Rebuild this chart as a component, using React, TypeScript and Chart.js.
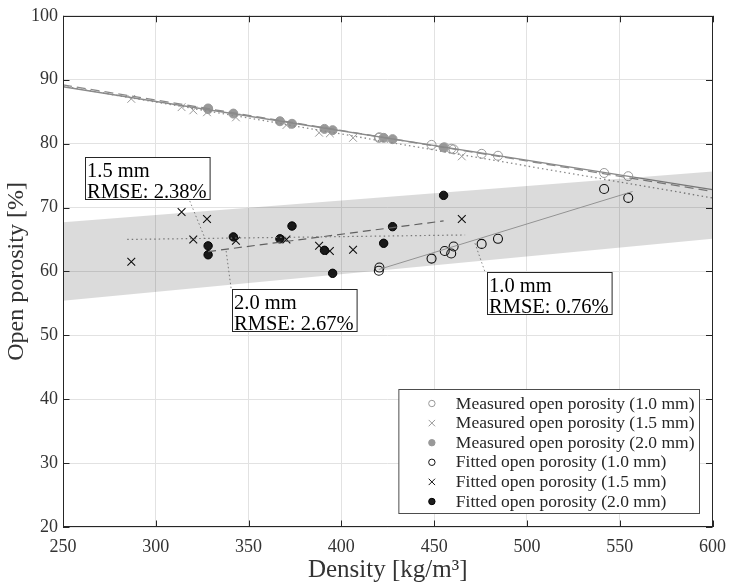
import React, { useEffect, useRef } from "react";
import { Chart, registerables } from "chart.js";
import { drawPoint } from "chart.js/helpers";

Chart.register(...registerables);

const FONT = "'Liberation Serif', 'Times New Roman', serif";
const AXIS_COLOR = "#262626";
const TEXT_COLOR = "#333333";

// Axis ranges / ticks
const X_MIN = 250;
const X_MAX = 600;
const X_STEP = 50;
const Y_MIN = 20;
const Y_MAX = 100;
const Y_STEP = 10;

// 1.0 mm
const density10 = [420.5, 420.2, 448.6, 455.7, 459.2, 460.5, 475.6, 484.4, 541.6, 554.6];
const measured10 = [81.0, 80.9, 79.8, 79.4, 79.2, 79.1, 78.4, 78.1, 75.4, 74.9];
const fitted10 = [60.6, 60.1, 62.0, 63.2, 62.8, 63.9, 64.3, 65.1, 72.9, 71.5];

// 1.5 mm
const density15 = [286.8, 313.9, 320.2, 327.6, 343.2, 370.4, 388.0, 393.8, 406.3, 464.9];
const measured15 = [87.0, 85.7, 85.2, 84.9, 84.1, 82.9, 81.7, 81.6, 80.9, 78.0];
const fitted15 = [61.5, 69.3, 65.0, 68.2, 64.8, 65.0, 64.0, 63.2, 63.4, 68.2];

// 2.0 mm
const density20 = [328.2, 328.2, 341.8, 366.9, 373.4, 390.9, 395.3, 422.8, 427.6, 455.1];
const measured20 = [85.5, 85.4, 84.7, 83.5, 83.1, 82.3, 82.1, 80.9, 80.7, 79.4];
const fitted20 = [64.0, 62.6, 65.4, 65.1, 67.1, 63.3, 59.7, 64.4, 67.0, 71.9];

// Upper model lines (measured trend)
const modelX = [250, 600];
const model10 = [88.9, 72.8];
const model15 = [89.0, 71.5];
const model20 = [89.2, 72.5];

// Lower fitted trend lines
const trend10X = [420.2, 556.9];
const trend10Y = [60.3, 72.5];
const trend15X = [284.6, 466.7];
const trend15Y = [65.0, 65.7];
const trend20X = [328.2, 455.1];
const trend20Y = [63.1, 67.9];

// Gray band
const bandX = [250, 600];
const bandLow = [55.4, 65.1];
const bandHigh = [67.7, 75.65];

// Annotation boxes
const noteLines = [
  ["1.5 mm", "RMSE: 2.38%"],
  ["2.0 mm", "RMSE: 2.67%"],
  ["1.0 mm", "RMSE: 0.76%"],
];
const noteLeft = [261.6, 340.9, 478.3];
const noteTop = [77.9, 57.3, 59.9];
const leaderX = [
  [317.5, 326.6],
  [337.9, 340.6],
  [472.0, 477.3],
];
const leaderY = [
  [71.6, 65.1],
  [63.2, 57.3],
  [64.4, 60.0],
];

const legendLabels = [
  "Measured open porosity (1.0 mm)",
  "Measured open porosity (1.5 mm)",
  "Measured open porosity (2.0 mm)",
  "Fitted open porosity (1.0 mm)",
  "Fitted open porosity (1.5 mm)",
  "Fitted open porosity (2.0 mm)",
];

const pts = (xs: number[], ys: number[]) => xs.map((x, i) => ({ x, y: ys[i] }));

const TICK_LEN = 6.5;

const frameTicks = {
  id: "frameTicks",
  afterDatasetsDraw(chart: any) {
    const { ctx, chartArea: a, scales } = chart;
    const xs = scales.x;
    const ys = scales.y;
    ctx.save();
    ctx.strokeStyle = AXIS_COLOR;
    ctx.lineWidth = 1;
    ctx.beginPath();
    xs.ticks.forEach((t: any) => {
      const px = Math.round(xs.getPixelForValue(t.value)) + 0.5;
      ctx.moveTo(px, a.bottom);
      ctx.lineTo(px, a.bottom - TICK_LEN);
      ctx.moveTo(px, a.top);
      ctx.lineTo(px, a.top + TICK_LEN);
    });
    ys.ticks.forEach((t: any) => {
      const py = Math.round(ys.getPixelForValue(t.value)) + 0.5;
      ctx.moveTo(a.left, py);
      ctx.lineTo(a.left + TICK_LEN, py);
      ctx.moveTo(a.right, py);
      ctx.lineTo(a.right - TICK_LEN, py);
    });
    ctx.stroke();
    ctx.strokeRect(
      Math.round(a.left) + 0.5,
      Math.round(a.top) + 0.5,
      Math.round(a.right - a.left) - 1,
      Math.round(a.bottom - a.top) - 1
    );
    ctx.restore();
  },
};

const notesAndLegend = {
  id: "notesAndLegend",
  afterDraw(chart: any) {
    const { ctx, chartArea: a, scales } = chart;
    const xs = scales.x;
    const ys = scales.y;
    ctx.save();
    // annotation boxes
    const nf = 20.5;
    ctx.font = `${nf}px ${FONT}`;
    noteLines.forEach((lines, i) => {
      const left = Math.round(xs.getPixelForValue(noteLeft[i])) + 0.5;
      const top = Math.round(ys.getPixelForValue(noteTop[i])) + 0.5;
      const w = Math.max(...lines.map((l) => ctx.measureText(l).width)) + 5;
      const h = 42;
      ctx.fillStyle = "#ffffff";
      ctx.fillRect(left, top, w, h);
      ctx.strokeStyle = AXIS_COLOR;
      ctx.lineWidth = 1;
      ctx.strokeRect(left, top, w, h);
      ctx.fillStyle = "#000000";
      ctx.textBaseline = "alphabetic";
      ctx.textAlign = "left";
      ctx.fillText(lines[0], left + 1.5, top + 19.5);
      ctx.fillText(lines[1], left + 1.5, top + 40);
    });

    // legend
    const lf = 17.5;
    ctx.font = `${lf}px ${FONT}`;
    const items = chart.data.datasets.filter((d: any) => d.inLegend);
    const textW = Math.max(...items.map((d: any) => ctx.measureText(d.label).width));
    const right = Math.round(a.right - 14) + 0.5;
    const bottom = Math.round(a.bottom - 14) + 0.5;
    const rowH = 19.6;
    const boxH = 124;
    const boxW = 57 + textW + 5;
    const left = right - boxW;
    const top = bottom - boxH;
    ctx.fillStyle = "#ffffff";
    ctx.fillRect(left, top, boxW, boxH);
    ctx.strokeStyle = "#4d4d4d";
    ctx.lineWidth = 1;
    ctx.strokeRect(left, top, boxW, boxH);
    items.forEach((d: any, i: number) => {
      const cy = top + 14 + i * rowH;
      ctx.save();
      ctx.fillStyle = d.backgroundColor;
      ctx.strokeStyle = d.borderColor;
      ctx.lineWidth = 1;
      drawPoint(ctx, { pointStyle: d.pointStyle, rotation: 0, radius: d.pointStyle === "crossRot" ? 4.5 : 3.2, borderWidth: 1 }, left + 33, cy);
      ctx.restore();
      ctx.fillStyle = AXIS_COLOR;
      ctx.textAlign = "left";
      ctx.textBaseline = "alphabetic";
      ctx.fillText(d.label, left + 57, cy + 5);
    });
    ctx.restore();
  },
};

export default function App() {
  const canvasRef = useRef<HTMLCanvasElement | null>(null);

  useEffect(() => {
    const canvas = canvasRef.current;
    if (!canvas) return;

    const lineDs = (xs: number[], ys: number[], color: string, width: number, dash: number[]) => ({
      type: "scatter",
      data: pts(xs, ys),
      showLine: true,
      borderColor: color,
      backgroundColor: color,
      borderWidth: width,
      borderDash: dash,
      pointRadius: 0,
      fill: false,
    });

    const datasets: any[] = [
      {
        label: "band-low",
        data: pts(bandX, bandLow),
        showLine: true,
        borderWidth: 0,
        borderColor: "rgba(0,0,0,0)",
        backgroundColor: "rgba(0,0,0,0)",
        pointRadius: 0,
        fill: false,
      },
      {
        label: "band-high",
        data: pts(bandX, bandHigh),
        showLine: true,
        borderWidth: 0,
        borderColor: "rgba(0,0,0,0)",
        backgroundColor: "rgba(0,0,0,0.14)",
        pointRadius: 0,
        fill: "-1",
      },
      lineDs(modelX, model10, "#8a8a8a", 1.3, []),
      lineDs(modelX, model15, "#8a8a8a", 1.3, [1.5, 3]),
      lineDs(modelX, model20, "#8a8a8a", 1.3, [9, 5]),
      lineDs(trend10X, trend10Y, "#ababab", 1, []),
      lineDs(trend15X, trend15Y, "#8a8a8a", 1.2, [1.5, 3]),
      lineDs(trend20X, trend20Y, "#707070", 1.2, [8, 5]),
      lineDs(leaderX[0], leaderY[0], "#8a8a8a", 1, [1.5, 2.5]),
      lineDs(leaderX[1], leaderY[1], "#8a8a8a", 1, [1.5, 2.5]),
      lineDs(leaderX[2], leaderY[2], "#8a8a8a", 1, [1.5, 2.5]),
      {
        label: legendLabels[0],
        inLegend: true,
        data: pts(density10, measured10),
        pointStyle: "circle",
        pointRadius: 4.5,
        borderWidth: 1,
        borderColor: "#999999",
        backgroundColor: "rgba(255,255,255,0)",
      },
      {
        label: legendLabels[1],
        inLegend: true,
        data: pts(density15, measured15),
        pointStyle: "crossRot",
        pointRadius: 5.5,
        borderWidth: 1,
        borderColor: "#999999",
        backgroundColor: "#999999",
      },
      {
        label: legendLabels[2],
        inLegend: true,
        data: pts(density20, measured20),
        pointStyle: "circle",
        pointRadius: 4.5,
        borderWidth: 1,
        borderColor: "#999999",
        backgroundColor: "#999999",
      },
      {
        label: legendLabels[3],
        inLegend: true,
        data: pts(density10, fitted10),
        pointStyle: "circle",
        pointRadius: 4.5,
        borderWidth: 1.1,
        borderColor: "#111111",
        backgroundColor: "rgba(255,255,255,0)",
      },
      {
        label: legendLabels[4],
        inLegend: true,
        data: pts(density15, fitted15),
        pointStyle: "crossRot",
        pointRadius: 5.5,
        borderWidth: 1.1,
        borderColor: "#111111",
        backgroundColor: "#111111",
      },
      {
        label: legendLabels[5],
        inLegend: true,
        data: pts(density20, fitted20),
        pointStyle: "circle",
        pointRadius: 4.2,
        borderWidth: 1,
        borderColor: "#000000",
        backgroundColor: "#1e1e1e",
      },
    ];

    const chart = new Chart(canvas, {
      type: "scatter",
      data: { datasets },
      options: {
        animation: false,
        responsive: false,
        devicePixelRatio: 1,
        layout: { padding: { left: 0, top: 9, right: 15, bottom: 0 } },
        plugins: {
          legend: { display: false },
          tooltip: { enabled: false },
        },
        scales: {
          x: {
            type: "linear",
            min: X_MIN,
            max: X_MAX,
            afterFit: (s: any) => {
              s.height = 61;
            },
            ticks: {
              stepSize: X_STEP,
              color: TEXT_COLOR,
              font: { family: FONT, size: 18 },
              padding: 9,
              maxRotation: 0,
            },
            grid: { color: "#e2e2e2", drawTicks: false, lineWidth: 1 },
            border: { display: false },
            title: {
              display: true,
              text: "Density [kg/m³]",
              color: TEXT_COLOR,
              font: { family: FONT, size: 25 },
              padding: { top: 0, bottom: 3 },
            },
          },
          y: {
            type: "linear",
            min: Y_MIN,
            max: Y_MAX,
            afterFit: (s: any) => {
              s.width = 63;
            },
            ticks: {
              stepSize: Y_STEP,
              color: TEXT_COLOR,
              font: { family: FONT, size: 18 },
              padding: 5,
            },
            grid: { color: "#e2e2e2", drawTicks: false, lineWidth: 1 },
            border: { display: false },
            title: {
              display: true,
              text: "Open porosity [%]",
              color: TEXT_COLOR,
              font: { family: FONT, size: 24 },
              padding: { top: 2, bottom: 0 },
            },
          },
        },
      } as any,
      plugins: [frameTicks, notesAndLegend],
    } as any);

    return () => chart.destroy();
  }, []);

  return (
    <div style={{ position: "absolute", left: 0, top: 0, width: 735, height: 588 }}>
      <canvas ref={canvasRef} width={735} height={588} style={{ width: 735, height: 588, display: "block" }} />
    </div>
  );
}
